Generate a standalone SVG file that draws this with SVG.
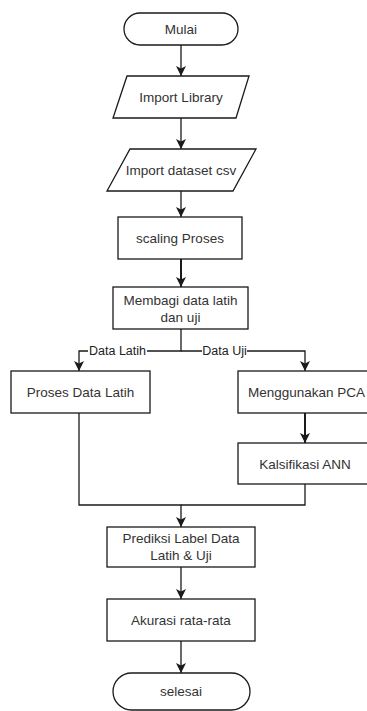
<svg xmlns="http://www.w3.org/2000/svg" width="367" height="711" viewBox="0 0 367 711">
<style>
.n{fill:#fff;stroke:#1a1a1a;stroke-width:1.3}
.t{font-family:"Liberation Sans",Arial,sans-serif;font-size:13.5px;fill:#333;text-anchor:middle}
.l{font-family:"Liberation Sans",Arial,sans-serif;font-size:12.5px;fill:#222;text-anchor:middle}
.c{fill:none;stroke:#1a1a1a;stroke-width:1.3}
.k{stroke-width:2}
</style>
<defs>
<marker id="a" markerUnits="userSpaceOnUse" markerWidth="12" markerHeight="12" viewBox="0 0 12 12" refX="11" refY="6" orient="auto">
<path d="M1,1 L11,6 L1,11 L3.5,6 Z" fill="#1a1a1a"/>
</marker>
</defs>
<rect width="367" height="711" fill="#fff"/>
<g id="connectors">
<path class="c" d="M181,45 V76" marker-end="url(#a)"/>
<path class="c" d="M181,118 V149" marker-end="url(#a)"/>
<path class="c" d="M181,191 V217" marker-end="url(#a)"/>
<path class="c k" d="M181,259 V287" marker-end="url(#a)"/>
<path class="c" d="M181,329 V351 H79 V371" marker-end="url(#a)"/>
<path class="c" d="M181,351 H305 V371" marker-end="url(#a)"/>
<path class="c k" d="M305,413 V443" marker-end="url(#a)"/>
<path class="c" d="M79,413 V505 H181 V527" marker-end="url(#a)"/>
<path class="c" d="M305,484 V505 H181"/>
<path class="c" d="M181,567 V599" marker-end="url(#a)"/>
<path class="c" d="M181,641 V673" marker-end="url(#a)"/>
<rect x="88" y="343" width="59" height="15" fill="#fff"/>
<text class="l" x="117.5" y="355">Data Latih</text>
<rect x="202" y="343" width="45" height="15" fill="#fff"/>
<text class="l" x="224.5" y="355">Data Uji</text>
</g>
<g id="mulai">
<rect class="n" x="124" y="13" width="114" height="32" rx="16"/>
<text class="t" x="181" y="34">Mulai</text>
</g>
<g id="import-library">
<path class="n" d="M127,76 H249 L236,118 H113 Z"/>
<text class="t" x="181" y="102">Import Library</text>
</g>
<g id="import-dataset">
<path class="n" d="M130,149 H256 L233,191 H107 Z"/>
<text class="t" x="181" y="175">Import dataset csv</text>
</g>
<g id="scaling">
<rect class="n" x="118" y="217" width="124" height="42"/>
<text class="t" x="180" y="243">scaling Proses</text>
</g>
<g id="membagi">
<rect class="n" x="113" y="287" width="135" height="42"/>
<text class="t" x="180.5" y="305">Membagi data latih</text>
<text class="t" x="180.5" y="322">dan uji</text>
</g>
<g id="proses-latih">
<rect class="n" x="11" y="371" width="139" height="42"/>
<text class="t" x="80.5" y="397">Proses Data Latih</text>
</g>
<g id="pca">
<rect class="n" x="238" y="371" width="136" height="42"/>
<text class="t" x="306.5" y="397">Menggunakan PCA</text>
</g>
<g id="ann">
<rect class="n" x="238" y="443" width="136" height="41"/>
<text class="t" x="305" y="468.5">Kalsifikasi ANN</text>
</g>
<g id="prediksi">
<rect class="n" x="107" y="527" width="148" height="40"/>
<text class="t" x="181" y="543">Prediksi Label Data</text>
<text class="t" x="181" y="560">Latih &amp; Uji</text>
</g>
<g id="akurasi">
<rect class="n" x="107" y="599" width="148" height="42"/>
<text class="t" x="181" y="625">Akurasi rata-rata</text>
</g>
<g id="selesai">
<rect class="n" x="113" y="673" width="137" height="37" rx="18.5"/>
<text class="t" x="181" y="696">selesai</text>
</g>
</svg>
